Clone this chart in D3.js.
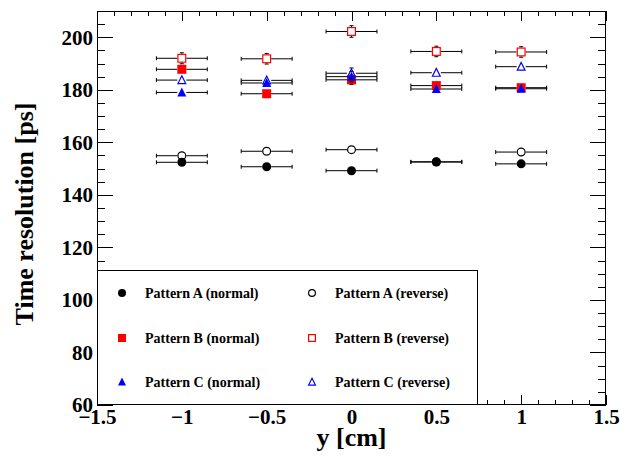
<!DOCTYPE html>
<html>
<head>
<meta charset="utf-8">
<script src="https://cdn.jsdelivr.net/npm/d3@7"></script>
<style>
  html, body { margin: 0; padding: 0; background: #fff; }
  svg { display: block; }
  text { font-family: "Liberation Serif", "Times New Roman", serif; font-weight: bold; }
</style>
</head>
<body>
<svg id="chart" width="629" height="461"></svg>
<script>
// ---------- data ----------
const positions = [-1, -0.5, 0, 0.5, 1];          // y [cm]
const xError = 0.15;

const patternANormal  = [152.4, 150.7, 149.2, 152.5, 151.8];
const patternAReverse = [154.9, 156.6, 157.2, 152.6, 156.3];
const patternBNormal  = [187.8, 178.5, 183.8, 181.6, 180.8];
const patternBReverse = [192.0, 191.8, 202.2, 194.6, 194.4];
const patternCNormal  = [179.0, 182.6, 185.0, 180.3, 180.4];
const patternCReverse = [183.7, 183.6, 186.3, 186.5, 188.8];

const errANormal  = [0.8, 0.8, 0.8, 0.8, 0.8];
const errAReverse = [0.9, 0.9, 0.9, 0.9, 0.9];
const errBNormal  = [1.6, 1.5, 1.8, 1.6, 1.6];
const errBReverse = [2.1, 2.0, 2.2, 2.0, 2.0];
const errCNormal  = [1.5, 1.6, 2.0, 1.5, 1.5];
const errCReverse = [1.6, 1.6, 2.0, 1.7, 1.7];

const xTickValues = [-1.5, -1, -0.5, 0, 0.5, 1, 1.5];
const xTickLabels = ["\u22121.5", "\u22121", "\u22120.5", "0", "0.5", "1", "1.5"];
const yTickValues = [60, 80, 100, 120, 140, 160, 180, 200];
const yTickLabels = ["60", "80", "100", "120", "140", "160", "180", "200"];

const series = [
  { name: "Pattern A (normal)",  values: patternANormal,  errors: errANormal,  shape: "circle",   filled: true,  color: "#000000" },
  { name: "Pattern A (reverse)", values: patternAReverse, errors: errAReverse, shape: "circle",   filled: false, color: "#000000" },
  { name: "Pattern B (normal)",  values: patternBNormal,  errors: errBNormal,  shape: "square",   filled: true,  color: "#ff0000" },
  { name: "Pattern B (reverse)", values: patternBReverse, errors: errBReverse, shape: "square",   filled: false, color: "#ff0000" },
  { name: "Pattern C (normal)",  values: patternCNormal,  errors: errCNormal,  shape: "triangle", filled: true,  color: "#0000ff" },
  { name: "Pattern C (reverse)", values: patternCReverse, errors: errCReverse, shape: "triangle", filled: false, color: "#0000ff" }
];

// ---------- layout ----------
const pLeft = 97, pRight = 606, pTop = 11, pBottom = 405;
const svg = d3.select("#chart");

const x = d3.scaleLinear().domain([-1.5, 1.5]).range([pLeft, pRight]);
const y = d3.scaleLinear().domain([60, 210]).range([pBottom, pTop]);

const xMinor = d3.range(-15, 16).map(d => d / 10).filter(d => !xTickValues.some(v => Math.abs(v - d) < 1e-9));
const yMinor = d3.range(60, 211, 5).filter(d => d % 20 !== 0);

// frame
svg.append("rect").attr("x", pLeft + 0.5).attr("y", pTop + 0.5)
  .attr("width", pRight - pLeft - 1).attr("height", pBottom - pTop - 1)
  .attr("fill", "none").attr("stroke", "#000").attr("stroke-width", 1);

function styleAxis(g) {
  g.select(".domain").remove();
  g.selectAll("line").attr("stroke", "#000").attr("shape-rendering", "crispEdges");
}
function styleLabels(g) {
  g.selectAll("text").attr("font-size", 21).attr("fill", "#000")
    .attr("font-family", "Liberation Serif, Times New Roman, serif").attr("font-weight", "bold");
}

// bottom axis
svg.append("g").attr("transform", `translate(0,${pBottom})`)
  .call(d3.axisBottom(x).tickValues(xTickValues).tickSize(-10).tickPadding(4)
    .tickFormat((d, i) => xTickLabels[i]))
  .call(styleAxis).call(styleLabels);
svg.append("g").attr("transform", `translate(0,${pBottom})`)
  .call(d3.axisBottom(x).tickValues(xMinor).tickSize(-5).tickFormat(""))
  .call(styleAxis);
// top axis
svg.append("g").attr("transform", `translate(0,${pTop})`)
  .call(d3.axisTop(x).tickValues(xTickValues).tickSize(-10).tickFormat(""))
  .call(styleAxis);
svg.append("g").attr("transform", `translate(0,${pTop})`)
  .call(d3.axisTop(x).tickValues(xMinor).tickSize(-5).tickFormat(""))
  .call(styleAxis);
// left axis
svg.append("g").attr("transform", `translate(${pLeft},0)`)
  .call(d3.axisLeft(y).tickValues(yTickValues).tickSize(-16).tickPadding(4)
    .tickFormat((d, i) => yTickLabels[i]))
  .call(styleAxis).call(styleLabels);
svg.append("g").attr("transform", `translate(${pLeft},0)`)
  .call(d3.axisLeft(y).tickValues(yMinor).tickSize(-8).tickFormat(""))
  .call(styleAxis);
// right axis
svg.append("g").attr("transform", `translate(${pRight},0)`)
  .call(d3.axisRight(y).tickValues(yTickValues).tickSize(-16).tickFormat(""))
  .call(styleAxis);
svg.append("g").attr("transform", `translate(${pRight},0)`)
  .call(d3.axisRight(y).tickValues(yMinor).tickSize(-8).tickFormat(""))
  .call(styleAxis);

// axis titles
svg.append("text").attr("x", (pLeft + pRight) / 2).attr("y", 446)
  .attr("text-anchor", "middle").attr("font-size", 26).text("y [cm]");
svg.append("text").attr("transform", "translate(33,214) rotate(-90)")
  .attr("text-anchor", "middle").attr("font-size", 26).text("Time resolution [ps]");

// ---------- markers ----------
const R = 4.5;
function marker(g, s, cx, cy, r) {
  const fill = s.filled ? s.color : "none";
  const sw = s.filled ? 0 : 1.2;
  const h = s.filled ? r : r - 0.6;
  if (s.shape === "circle") {
    g.append("circle").attr("cx", cx).attr("cy", cy).attr("r", h)
      .attr("fill", fill).attr("stroke", s.color).attr("stroke-width", sw);
  } else if (s.shape === "square") {
    g.append("rect").attr("x", cx - h).attr("y", cy - h).attr("width", 2 * h).attr("height", 2 * h)
      .attr("fill", fill).attr("stroke", s.color).attr("stroke-width", sw);
  } else {
    g.append("path").attr("d", `M${cx},${cy - h * 1.1}L${cx + h},${cy + h * 0.9}L${cx - h},${cy + h * 0.9}Z`)
      .attr("fill", fill).attr("stroke", s.color).attr("stroke-width", sw);
  }
}

const plot = svg.append("g");
series.forEach(s => {
  const g = plot.append("g");
  positions.forEach((p, i) => {
    const cx = x(p), cy = y(s.values[i]);
    const x0 = x(p - xError), x1 = x(p + xError);
    const yT = y(s.values[i] + s.errors[i]), yB = y(s.values[i] - s.errors[i]);
    const gap = R;
    const segs = [
      [x0, cy, cx - gap, cy], [cx + gap, cy, x1, cy],
      [x0, cy - 2, x0, cy + 2], [x1, cy - 2, x1, cy + 2]
    ];
    if (cy - yT > gap) segs.push([cx, yT, cx, cy - gap], [cx - 2, yT, cx + 2, yT]);
    if (yB - cy > gap) segs.push([cx, cy + gap, cx, yB], [cx - 2, yB, cx + 2, yB]);
    segs.forEach(l => g.append("line").attr("x1", l[0]).attr("y1", l[1]).attr("x2", l[2]).attr("y2", l[3])
      .attr("stroke", "#000").attr("stroke-width", 1));
    marker(g, s, cx, cy, R);
  });
});

// ---------- legend ----------
const lg = svg.append("g");
lg.append("rect").attr("x", 97.5).attr("y", 270.5).attr("width", 380).attr("height", 134)
  .attr("fill", "#fff").attr("stroke", "#000").attr("stroke-width", 1);
const colMarker = [122, 312], colText = [145, 335], rowY = [293, 338, 382];
series.forEach((s, i) => {
  const col = i % 2, row = Math.floor(i / 2);
  marker(lg, s, colMarker[col], rowY[row], 4);
  lg.append("text").attr("x", colText[col]).attr("y", rowY[row] + 5)
    .attr("font-size", 14).text(s.name);
});
</script>
</body>
</html>
